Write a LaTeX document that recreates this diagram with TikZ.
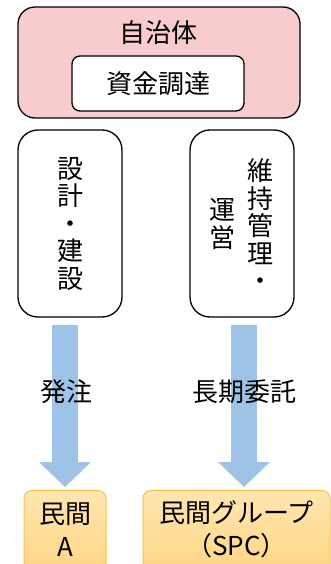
\documentclass[tikz,border=0pt]{standalone}
\usepackage{fontspec}
\setmainfont{Noto Sans CJK JP}
\usetikzlibrary{arrows.meta,positioning}

\definecolor{govpink}{HTML}{F8CBCC}
\definecolor{flowblue}{HTML}{9DC3E6}
\definecolor{privtop}{HTML}{FFE6B0}
\definecolor{privbot}{HTML}{FFD27A}
\definecolor{privedge}{HTML}{F4C24A}

\begin{document}
\begin{tikzpicture}[
x=1pt, y=-1pt,
every node/.style={font=\fontsize{26}{27.5}\selectfont},
govbox/.style={draw, line width=1.3pt, rounded corners=17pt, fill=govpink, minimum width=282pt, minimum height=111pt},
fundbox/.style={draw, line width=1.3pt, rounded corners=8pt, fill=white, minimum width=172pt, minimum height=55pt},
block/.style={draw, line width=1.3pt, rounded corners=20pt, fill=white, minimum width=104pt, minimum height=187pt},
privbox/.style={draw=privedge, line width=1pt, rounded corners=8pt, top color=privtop, bottom color=privbot, minimum height=100pt, anchor=north},
vtext/.style={align=center, inner sep=0pt},
flow/.style={flowblue, line width=26pt, -{Triangle[length=25pt, width=52pt, line width=0pt]}}
]
\clip (0,0) rectangle (331,564);
\node[govbox] (gov) at (159,62.5) {};
\node (govlabel) at (158,33) {自治体};
\node[fundbox] (fund) at (158,83.5) {資金調達};
\node[block] (design) at (70,223.5) {};
\node[vtext] (designtext) at (70,224) {設\\計\\・\\建\\設};
\node[block] (maint) at (242,223.5) {};
\node[vtext] (maintR) at (260,225) {維\\持\\管\\理\\・};
\node[vtext] (maintL) at (222,224) {運\\営};
\node[privbox, minimum width=82pt] (privA) at (65,490) {};
\node[vtext] (privAtext) at (65,529.5) {民間\\[5.5pt]A};
\node[privbox, minimum width=187pt] (spc) at (236.5,490) {};
\node[vtext] (spctext) at (236.5,529.5) {民間グループ\\[5.5pt]（SPC）};
\draw[flow, shorten <=7pt, shorten >=3pt] (privA.north |- design.south) -- (privA.north);
\draw[flow, shorten <=7pt, shorten >=3pt] ([xshift=2pt]maint.south) -- ([xshift=2pt]maint.south |- spc.north);
\node (order) at (66,392) {発注};
\node (contract) at (244,392) {長期委託};
\end{tikzpicture}
\end{document}
